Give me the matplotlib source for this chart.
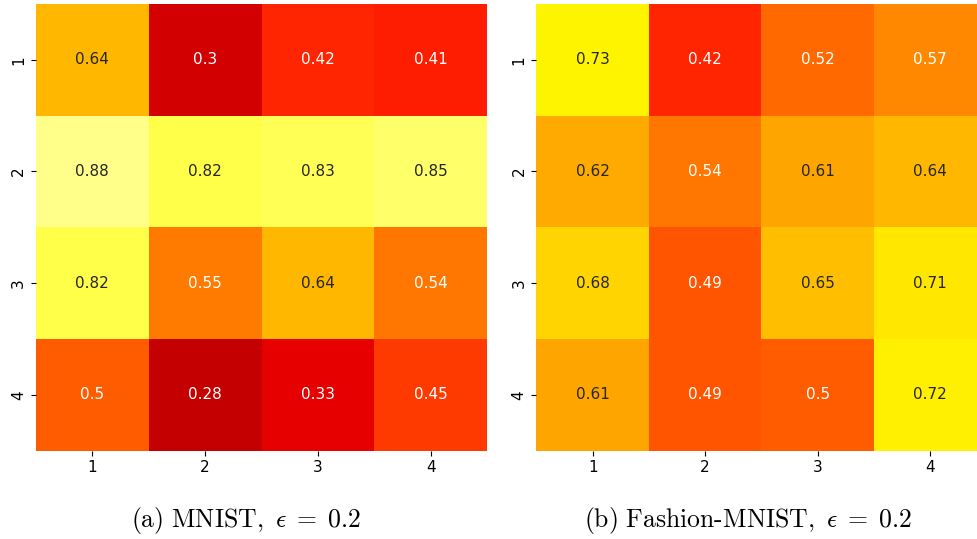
import matplotlib
matplotlib.use('Agg')
import matplotlib.pyplot as plt
import numpy as np
import seaborn as sns

# axis labels
rows = ["1", "2", "3", "4"]
cols = ["1", "2", "3", "4"]

# accuracy values
mnist = [
    [0.64, 0.30, 0.42, 0.41],
    [0.88, 0.82, 0.83, 0.85],
    [0.82, 0.55, 0.64, 0.54],
    [0.50, 0.28, 0.33, 0.45],
]
fashion = [
    [0.73, 0.42, 0.52, 0.57],
    [0.62, 0.54, 0.61, 0.64],
    [0.68, 0.49, 0.65, 0.71],
    [0.61, 0.49, 0.50, 0.72],
]

captions = [
    r"$\mathrm{(a)\ MNIST,}\ \epsilon\;=\;0.2$",
    r"$\mathrm{(b)\ Fashion\text{-}MNIST,}\ \epsilon\;=\;0.2$",
]

plt.rcParams['mathtext.fontset'] = 'cm'

W, H = 977, 539
fig = plt.figure(figsize=(W / 100, H / 100), dpi=100)

# axes boxes in pixels: left, top, width, height
boxes = [(36, 4, 451, 446.5), (536.4, 4, 450, 446.5)]
cap_x = [245.5, 747.5]

for data, cap, cx, (x0, y0, w, h) in zip([mnist, fashion], captions, cap_x, boxes):
    ax = fig.add_axes([x0 / W, 1 - (y0 + h) / H, w / W, h / H])
    sns.heatmap(np.array(data), ax=ax, cmap='hot', vmin=0, vmax=1,
                annot=True, fmt='g', cbar=False,
                xticklabels=cols, yticklabels=rows,
                annot_kws={'fontsize': 11})
    ax.tick_params(labelsize=11)
    plt.setp(ax.get_yticklabels(), rotation=90, va='center')
    fig.text(cx / W, 1 - 520 / H, cap, ha='center', va='center', fontsize=18.5)

fig.savefig('out.png', dpi=100)
